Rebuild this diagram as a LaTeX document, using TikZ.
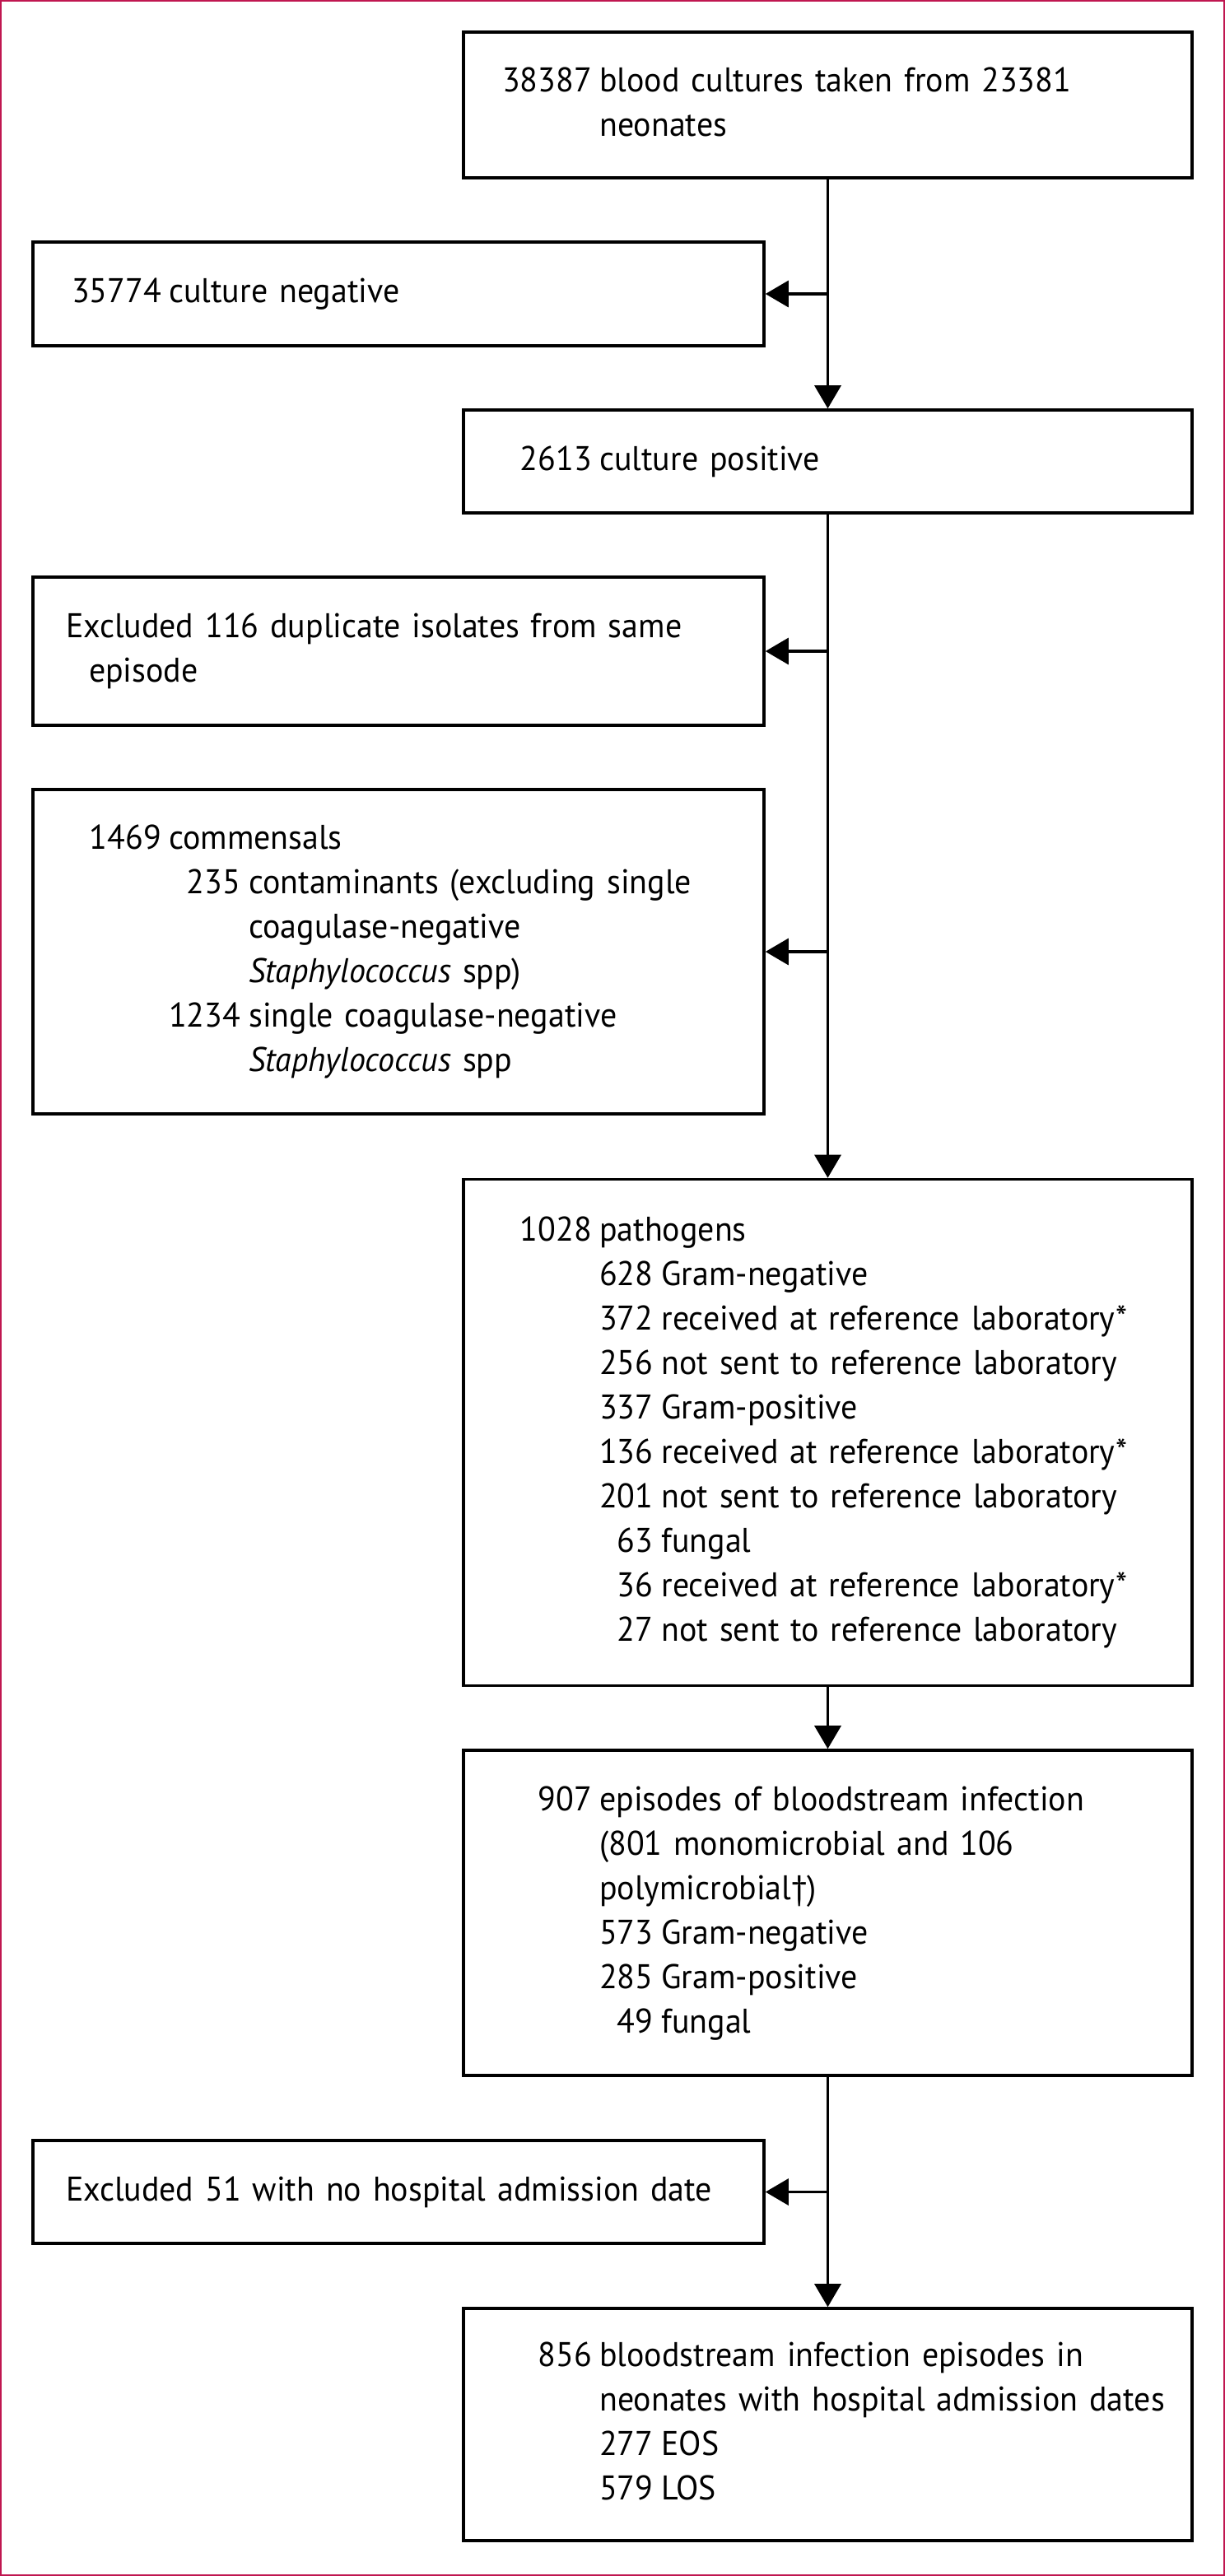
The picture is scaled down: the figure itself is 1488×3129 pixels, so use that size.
\documentclass[tikz,border=0pt]{standalone}
\usepackage{fontspec}
\setmainfont{PT Sans}[FakeStretch=0.96,WordSpace=0.8]
\usepackage{array}
\usetikzlibrary{arrows.meta}

\definecolor{framered}{RGB}{192,22,80}
\newcolumntype{N}{>{\raggedleft\arraybackslash}p{29pt}}
\newcommand{\flowtab}[1]{\begin{tabular}{@{}N@{\hspace{2.3pt}}r@{\hspace{2.5pt}}l@{}}#1\end{tabular}}
\newcommand{\fulltext}[1]{\multicolumn{2}{@{}l@{}}{#1}}

\begin{document}
\begin{tikzpicture}[x=0.25pt,y=-0.25pt,>={Triangle[length=7pt,width=8pt]},
    flowbox/.style={draw, line width=0.9pt, inner xsep=10pt, inner ysep=0pt, align=left,
        font=\fontsize{10.4pt}{13.5pt}\selectfont},
    rbox/.style={flowbox, minimum width=221.25pt, text width=201.25pt},
    lbox/.style={flowbox, minimum width=222pt, text width=202pt},
    flowline/.style={line width=0.8pt}]
            \useasboundingbox (0,0) rectangle (1488,3129);
            % outer frame
            \draw[framered, line width=0.6pt] (1.2,1.2) rectangle (1486.8,3127.8);

            % main column
            \node[rbox, minimum height=44.25pt] (cultures) at (1005.5,127.5)
                {\flowtab{38387 & \fulltext{blood cultures taken from 23381}\\ & \fulltext{neonates}}};
            \node[rbox, minimum height=31.25pt] (positive) at (1005.5,560.5)
                {\flowtab{2613 & \fulltext{culture positive}}};
            \node[rbox, minimum height=153.75pt] (pathogens) at (1005.5,1740)
                {\flowtab{1028 & \fulltext{pathogens}\\
                 & 628 & Gram-negative\\
                 & 372 & received at reference laboratory*\\
                 & 256 & not sent to reference laboratory\\
                 & 337 & Gram-positive\\
                 & 136 & received at reference laboratory*\\
                 & 201 & not sent to reference laboratory\\
                 & 63 & fungal\\
                 & 36 & received at reference laboratory*\\
                 & 27 & not sent to reference laboratory}};
            \node[rbox, minimum height=98.75pt] (episodes) at (1005.5,2323.5)
                {\flowtab{907 & \fulltext{episodes of bloodstream infection}\\
                 & \fulltext{(801 monomicrobial and 106}\\
                 & \fulltext{polymicrobial†)}\\
                 & 573 & Gram-negative\\
                 & 285 & Gram-positive\\
                 & 49 & fungal}};
            \node[rbox, minimum height=70.5pt] (admitted) at (1005.5,2945)
                {\flowtab{856 & \fulltext{bloodstream infection episodes in}\\
                 & \fulltext{neonates with hospital admission dates}\\
                 & 277 & EOS\\
                 & 579 & LOS}};

            % excluded boxes
            \node[lbox, minimum height=31.5pt] (negative) at (484,357)
                {\flowtab{35774 & \fulltext{culture negative}}};
            \node[lbox, minimum height=45pt] (duplicates) at (484,791)
                {\begin{tabular}{@{}l@{}}Excluded 116 duplicate isolates from same\\\hspace*{7pt}episode\end{tabular}};
            \node[lbox, minimum height=98.5pt] (commensals) at (484,1156)
                {\flowtab{1469 & \fulltext{commensals}\\
                 & 235 & contaminants (excluding single\\
                 & & coagulase-negative\\
                 & & \textit{Staphylococcus} spp)\\
                 & 1234 & single coagulase-negative\\
                 & & \textit{Staphylococcus} spp}};
            \node[lbox, minimum height=31.25pt] (nodate) at (484,2662.5)
                {\begin{tabular}{@{}l@{}}Excluded 51 with no hospital admission date\end{tabular}};

            % arrows down the middle
            \draw[flowline, ->] (cultures) -- (positive);
            \draw[flowline, ->] (positive) -- (pathogens);
            \draw[flowline, ->] (pathogens) -- (episodes);
            \draw[flowline, ->] (episodes) -- (admitted);

            % arrows to the side
            \draw[flowline, ->] (negative.east -| cultures) -- (negative.east);
            \draw[flowline, ->] (duplicates.east -| positive) -- (duplicates.east);
            \draw[flowline, ->] (commensals.east -| positive) -- (commensals.east);
            \draw[flowline, ->] (nodate.east -| episodes) -- (nodate.east);

        \end{tikzpicture}
\end{document}
